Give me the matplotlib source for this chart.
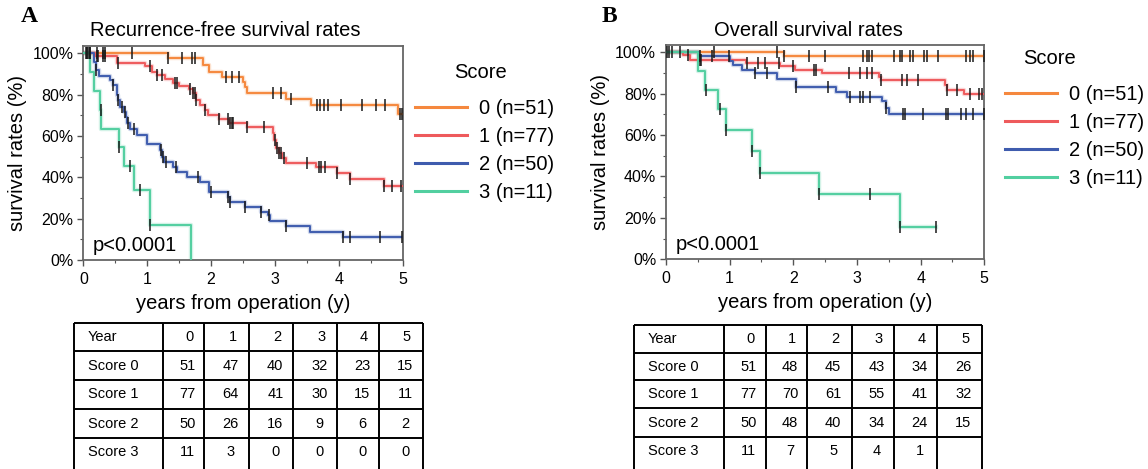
import numpy as np
import matplotlib.pyplot as plt
from matplotlib.ticker import MultipleLocator, FuncFormatter

plt.rcParams['font.family'] = ['Liberation Sans', 'DejaVu Sans']

# --- data ---
score_labels = ['0 (n=51)', '1 (n=77)', '2 (n=50)', '3 (n=11)']
colors = ['#F5883E', '#EE5A5C', '#3F5CAE', '#52CFA0']

# Recurrence-free survival: drop times, survival after drop (%), censor times
rfs0_t = [1.33, 1.87, 1.96, 2.17, 2.50, 2.53, 2.56, 3.18, 3.57, 4.93]
rfs0_s = [97.8, 94.3, 90.8, 88.5, 86.0, 83.5, 81.0, 77.8, 75.2, 70.8]
rfs0_c = [0.04, 0.06, 0.085, 0.105, 0.21, 0.31, 0.34, 0.76, 1.33, 1.54, 1.70, 1.75,
          2.24, 2.32, 2.43, 2.97, 3.09, 3.25, 3.66, 3.70, 3.76, 3.83, 4.03, 4.37,
          4.58, 4.72, 4.95, 4.99]

rfs1_t = [0.18, 0.52, 0.97, 1.07, 1.15, 1.28, 1.41, 1.50, 1.65, 1.72, 1.77, 1.82,
          1.90, 1.95, 2.12, 2.28, 2.56, 2.97, 2.99, 3.02, 3.06, 3.11, 3.17, 3.64,
          3.97, 4.17, 4.70]
rfs1_s = [98.7, 95.5, 93.9, 91.1, 89.5, 87.4, 85.8, 84.2, 82.6, 80.6, 77.4, 75.0,
          72.6, 70.0, 68.3, 66.4, 64.2, 61.3, 58.0, 54.0, 51.6, 49.2, 47.1, 44.8,
          41.9, 39.0, 36.0]
rfs1_c = [0.05, 0.10, 0.21, 0.23, 0.31, 0.34, 0.55, 1.04, 1.15, 1.23, 1.43, 1.47,
          1.67, 1.72, 1.75, 1.77, 1.90, 2.12, 2.27, 2.30, 2.32, 2.35, 2.56, 2.83,
          3.00, 3.03, 3.06, 3.10, 3.14, 3.50, 3.69, 3.72, 3.78, 3.97, 4.17, 4.70,
          4.83, 4.97]

rfs2_t = [0.16, 0.20, 0.25, 0.42, 0.47, 0.52, 0.55, 0.58, 0.63, 0.66, 0.68, 0.73,
          0.84, 0.99, 1.20, 1.23, 1.26, 1.41, 1.46, 1.62, 1.83, 1.97, 2.27, 2.30,
          2.53, 2.78, 2.89, 2.92, 3.18, 3.55, 4.06]
rfs2_s = [96.0, 92.0, 89.0, 87.0, 84.7, 79.8, 77.4, 74.2, 71.8, 69.4, 66.1, 63.2,
          60.5, 56.3, 53.2, 50.0, 47.4, 45.2, 42.7, 40.3, 37.9, 33.1, 30.6, 28.2,
          25.8, 23.4, 21.8, 18.8, 16.4, 13.7, 11.0]
rfs2_c = [0.20, 0.47, 0.55, 0.60, 0.65, 0.70, 0.80, 1.22, 1.25, 1.30, 1.45, 1.80,
          2.00, 2.27, 2.30, 2.53, 2.78, 2.91, 3.18, 4.06, 4.17, 4.64, 4.99]

rfs3_t = [0.105, 0.17, 0.26, 0.28, 0.56, 0.63, 0.79, 1.05, 1.69]
rfs3_s = [90.9, 81.8, 72.7, 63.6, 54.5, 45.5, 34.1, 17.0, 0.0]
rfs3_c = [0.27, 0.56, 0.73, 0.88, 1.05]

rfs_end = [5.0, 5.0, 5.0, 1.69]

# Overall survival
os0_t = [1.85]
os0_s = [98.0]
os0_c = [0.01, 0.05, 0.10, 0.22, 0.75, 1.74, 1.85, 2.25, 2.50, 3.09, 3.15, 3.19,
         3.24, 3.58, 3.68, 3.70, 3.84, 3.88, 4.05, 4.10, 4.28, 4.72, 4.77, 4.83, 5.0]

os1_t = [0.27, 0.37, 1.26, 1.79, 2.03, 2.45, 3.34, 3.37, 4.38, 4.41, 4.68]
os1_s = [98.7, 96.1, 94.6, 93.2, 91.6, 90.0, 88.0, 86.4, 84.0, 81.9, 79.8]
os1_c = [0.35, 0.53, 0.55, 1.28, 1.45, 1.55, 1.77, 2.00, 2.32, 2.35, 2.88, 3.04,
         3.15, 3.23, 3.37, 3.70, 3.78, 3.96, 4.41, 4.57, 4.77, 4.91, 4.96]

os2_t = [0.52, 1.01, 1.06, 1.19, 1.40, 1.74, 2.05, 2.67, 2.84, 3.40, 3.45, 3.51]
os2_s = [98.0, 96.0, 93.9, 91.6, 90.0, 87.2, 83.0, 80.8, 78.4, 76.3, 73.0, 70.3]
os2_c = [0.53, 0.72, 0.99, 1.40, 1.58, 2.05, 2.55, 2.89, 3.05, 3.10, 3.20, 3.45,
         3.72, 3.75, 4.03, 4.40, 4.43, 4.64, 4.72, 4.83, 5.0]

os3_t = [0.51, 0.61, 0.81, 0.94, 1.35, 1.47, 2.40, 3.68]
os3_s = [90.9, 81.8, 72.7, 62.5, 52.3, 41.8, 31.4, 15.8]
os3_c = [0.63, 0.85, 0.94, 1.35, 1.47, 2.40, 3.21, 3.68, 4.24]

os_end = [5.0, 5.0, 5.0, 4.24]

# Numbers at risk tables
table_years = [0, 1, 2, 3, 4, 5]
row_names = ['Score 0', 'Score 1', 'Score 2', 'Score 3']
rfs_risk0 = [51, 47, 40, 32, 23, 15]
rfs_risk1 = [77, 64, 41, 30, 15, 11]
rfs_risk2 = [50, 26, 16, 9, 6, 2]
rfs_risk3 = [11, 3, 0, 0, 0, 0]
os_risk0 = [51, 48, 45, 43, 34, 26]
os_risk1 = [77, 70, 61, 55, 41, 32]
os_risk2 = [50, 48, 40, 34, 24, 15]
os_risk3 = [11, 7, 5, 4, 1, None]


def surv_at(times, vals, q):
    idx = np.searchsorted(times, q, side='right')
    return np.concatenate([[100.0], vals])[idx]


def km_panel(ax, curves, ends):
    handles = []
    for (t, s, c), end, col in zip(curves, ends, colors):
        x = [0.0] + list(t) + [end]
        y = [100.0] + list(s) + [s[-1]]
        ax.step(x, y, where='post', color=col, lw=3.2, alpha=0.25, zorder=2)
        h, = ax.step(x, y, where='post', color=col, lw=1.4, zorder=3)
        handles.append(h)
        ct = np.array(c)
        ax.plot(ct, surv_at(t, s, ct), ls='none', marker='|', ms=8, mew=1.1,
                color='#1a1a1a', zorder=4)
    ax.set_xlim(0, 5)
    ax.set_ylim(0, 103.5)
    ax.xaxis.set_major_locator(MultipleLocator(1))
    ax.xaxis.set_minor_locator(MultipleLocator(0.5))
    ax.yaxis.set_major_locator(MultipleLocator(20))
    ax.yaxis.set_minor_locator(MultipleLocator(10))
    ax.yaxis.set_major_formatter(FuncFormatter(lambda v, p: '%d%%' % v))
    ax.tick_params(which='major', length=4, width=1, color='#555555',
                   labelsize=11.5, pad=3)
    ax.tick_params(axis='x', which='major', pad=4.5)
    ax.tick_params(which='minor', length=2.5, width=0.8, color='#555555')
    for sp in ax.spines.values():
        sp.set_color('#666666')
        sp.set_linewidth(1.3)
    ax.set_xlabel('years from operation (y)', fontsize=14.5, labelpad=5)
    ax.set_ylabel('survival rates (%)', fontsize=14.5, labelpad=4)
    ax.text(0.03, 0.07, 'p<0.0001', transform=ax.transAxes, fontsize=14.5,
            va='center', ha='left')
    return handles


fig = plt.figure(figsize=(11.48, 4.69), dpi=100)
axA = fig.add_axes([0.0726, 0.4456, 0.2782, 0.4563])
axB = fig.add_axes([0.5801, 0.4471, 0.2773, 0.4569])

hA = km_panel(axA, [(rfs0_t, rfs0_s, rfs0_c), (rfs1_t, rfs1_s, rfs1_c),
                    (rfs2_t, rfs2_s, rfs2_c), (rfs3_t, rfs3_s, rfs3_c)], rfs_end)
hB = km_panel(axB, [(os0_t, os0_s, os0_c), (os1_t, os1_s, os1_c),
                    (os2_t, os2_s, os2_c), (os3_t, os3_s, os3_c)], os_end)

# legends: title placed separately, entries below it
for ax, h, anchor, title_xy in [(axA, hA, (1.038, 0.751), (481, 73)),
                                (axB, hB, (1.065, 0.812), (1050, 58))]:
    leg = ax.legend(h, score_labels, loc='upper left',
                    bbox_to_anchor=anchor, frameon=False, fontsize=14.5,
                    handlelength=2.6, handletextpad=0.6,
                    labelspacing=0.45, borderpad=0, borderaxespad=0)
    for line in leg.get_lines():
        line.set_linewidth(2.2)
        line.set_alpha(1)
    fig.text(title_xy[0] / 1148, 1 - title_xy[1] / 469, 'Score', fontsize=14.5,
             ha='center', va='center')

fig.text(225 / 1148, 1 - 30 / 469, 'Recurrence-free survival rates', fontsize=14.5,
         ha='center', va='center')
fig.text(808 / 1148, 1 - 30 / 469, 'Overall survival rates', fontsize=14.5,
         ha='center', va='center')
fig.text(29 / 1148, 1 - 17 / 469, 'A', fontsize=17, fontweight='bold',
         family='Liberation Serif', ha='center', va='center')
fig.text(609 / 1148, 1 - 17 / 469, 'B', fontsize=17, fontweight='bold',
         family='Liberation Serif', ha='center', va='center')

# --- at-risk tables, drawn in pixel coordinates ---
axT = fig.add_axes([0, 0, 1, 1])
axT.set_xlim(0, 1148)
axT.set_ylim(469, 0)
axT.axis('off')


def draw_table(xs, ys, rows):
    axT.vlines(xs, ys[0], ys[-1], color='black', lw=1.4)
    axT.hlines(ys, xs[0], xs[-1], color='black', lw=1.4)
    header = ['Year'] + [str(y) for y in table_years]
    body = [[name] + ['' if v is None else str(v) for v in r]
            for name, r in zip(row_names, rows)]
    for i, row in enumerate([header] + body):
        yc = (ys[i] + ys[i + 1]) / 2
        if i == len(body):
            yc = ys[i] + 14
        for j, txt in enumerate(row):
            if j == 0:
                axT.text(xs[0] + 14, yc, txt, fontsize=10.5, ha='left', va='center')
            else:
                off = 6 if i == 0 else 4
                axT.text((xs[j] + xs[j + 1]) / 2 + off, yc, txt, fontsize=10.5,
                         ha='center', va='center')


draw_table([74, 163.3, 204, 249.3, 293.3, 337.3, 379, 423],
           [323.5, 351, 380, 409, 438, 472],
           [rfs_risk0, rfs_risk1, rfs_risk2, rfs_risk3])
draw_table([634, 724, 765.7, 806.7, 851.7, 894.3, 937.3, 981.7],
           [325, 352.7, 380.5, 408.5, 437.3, 472],
           [os_risk0, os_risk1, os_risk2, os_risk3])

fig.savefig('out.png', dpi=100)
